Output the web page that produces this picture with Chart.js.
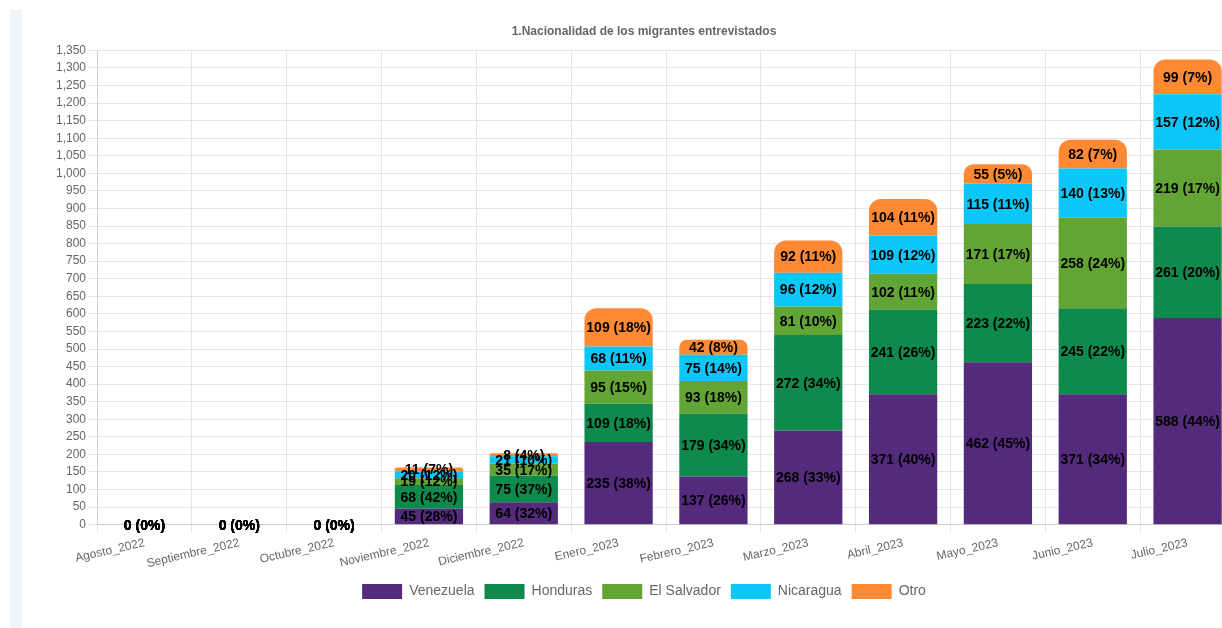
<!DOCTYPE html>
<html>
<head>
<meta charset="utf-8">
<script src="https://cdn.jsdelivr.net/npm/chart.js@4"></script>
<style>
  body { margin: 0; background: #fff; overflow: hidden; width: 1222px; height: 628px; position: relative; }
  .strip { position: absolute; left: 10px; top: 10px; width: 12px; height: 618px; background: #eff4f9; }
  .box { position: absolute; left: 25px; top: 10px; width: 1210px; height: 599px; }
</style>
</head>
<body>
<div class="strip"></div>
<div class="box"><canvas id="barChart"></canvas></div>
<script>
// Nacionalidad de los migrantes entrevistados, por mes
const months = ['Agosto_2022', 'Septiembre_2022', 'Octubre_2022', 'Noviembre_2022', 'Diciembre_2022',
    'Enero_2023', 'Febrero_2023', 'Marzo_2023', 'Abril_2023', 'Mayo_2023', 'Junio_2023', 'Julio_2023'];
const venezuela  = [0, 0, 0, 45, 64, 235, 137, 268, 371, 462, 371, 588];
const honduras   = [0, 0, 0, 68, 75, 109, 179, 272, 241, 223, 245, 261];
const elSalvador = [0, 0, 0, 19, 35, 95, 93, 81, 102, 171, 258, 219];
const nicaragua  = [0, 0, 0, 20, 21, 68, 75, 96, 109, 115, 140, 157];
const otro       = [0, 0, 0, 11, 8, 109, 42, 92, 104, 55, 82, 99];

const totals = months.map((m, i) => venezuela[i] + honduras[i] + elSalvador[i] + nicaragua[i] + otro[i]);

// value (pct%) labels in the middle of each segment
const segmentLabels = {
    id: 'segmentLabels',
    afterDatasetsDraw(chart) {
        const ctx = chart.ctx;
        ctx.save();
        ctx.font = 'bold 14px "Liberation Sans", Arial, sans-serif';
        ctx.fillStyle = '#000';
        ctx.textAlign = 'center';
        ctx.textBaseline = 'middle';
        chart.data.datasets.forEach((ds, di) => {
            const meta = chart.getDatasetMeta(di);
            if (meta.hidden) return;
            meta.data.forEach((bar, i) => {
                const v = ds.data[i];
                const pct = totals[i] ? Math.round(v / totals[i] * 100) : 0;
                ctx.fillText(v + ' (' + pct + '%)', bar.x, (bar.y + bar.base) / 2 + 1);
            });
        });
        ctx.restore();
    }
};

Chart.defaults.font.family = '"Liberation Sans", Arial, sans-serif';
Chart.defaults.color = '#666';

const ctxBar = document.getElementById('barChart').getContext('2d');
const barChart = new Chart(ctxBar, {
    type: 'bar',
    data: {
        labels: months,
        datasets: [
            { label: 'Venezuela', data: venezuela, backgroundColor: '#532a7c' },
            { label: 'Honduras', data: honduras, backgroundColor: '#0d8a4c' },
            { label: 'El Salvador', data: elSalvador, backgroundColor: '#62a534' },
            { label: 'Nicaragua', data: nicaragua, backgroundColor: '#0bc7f8' },
            { label: 'Otro', data: otro, backgroundColor: '#ff8a33',
              borderRadius: { topLeft: 12, topRight: 12 }, borderSkipped: 'start' }
        ]
    },
    options: {
        responsive: true,
        maintainAspectRatio: false,
        animation: false,
        layout: { padding: { left: 28, right: 0, top: 0, bottom: 0 } },
        plugins: {
            title: {
                display: true,
                text: '1.Nacionalidad de los migrantes entrevistados',
                font: { size: 12, weight: 'bold' },
                color: '#666',
                padding: { top: 14, bottom: 12 }
            },
            legend: {
                display: true,
                position: 'bottom',
                labels: { boxWidth: 40, boxHeight: 15, font: { size: 14 }, padding: 10 }
            },
            tooltip: { enabled: false }
        },
        scales: {
            x: {
                stacked: true,
                grid: { color: '#e6e6e6' },
                ticks: { font: { size: 12 }, minRotation: 13, maxRotation: 13 }
            },
            y: {
                stacked: true,
                beginAtZero: true,
                max: 1350,
                grid: { color: '#e6e6e6' },
                ticks: { stepSize: 50, font: { size: 12 } }
            }
        }
    },
    plugins: [segmentLabels]
});
</script>
</body>
</html>
